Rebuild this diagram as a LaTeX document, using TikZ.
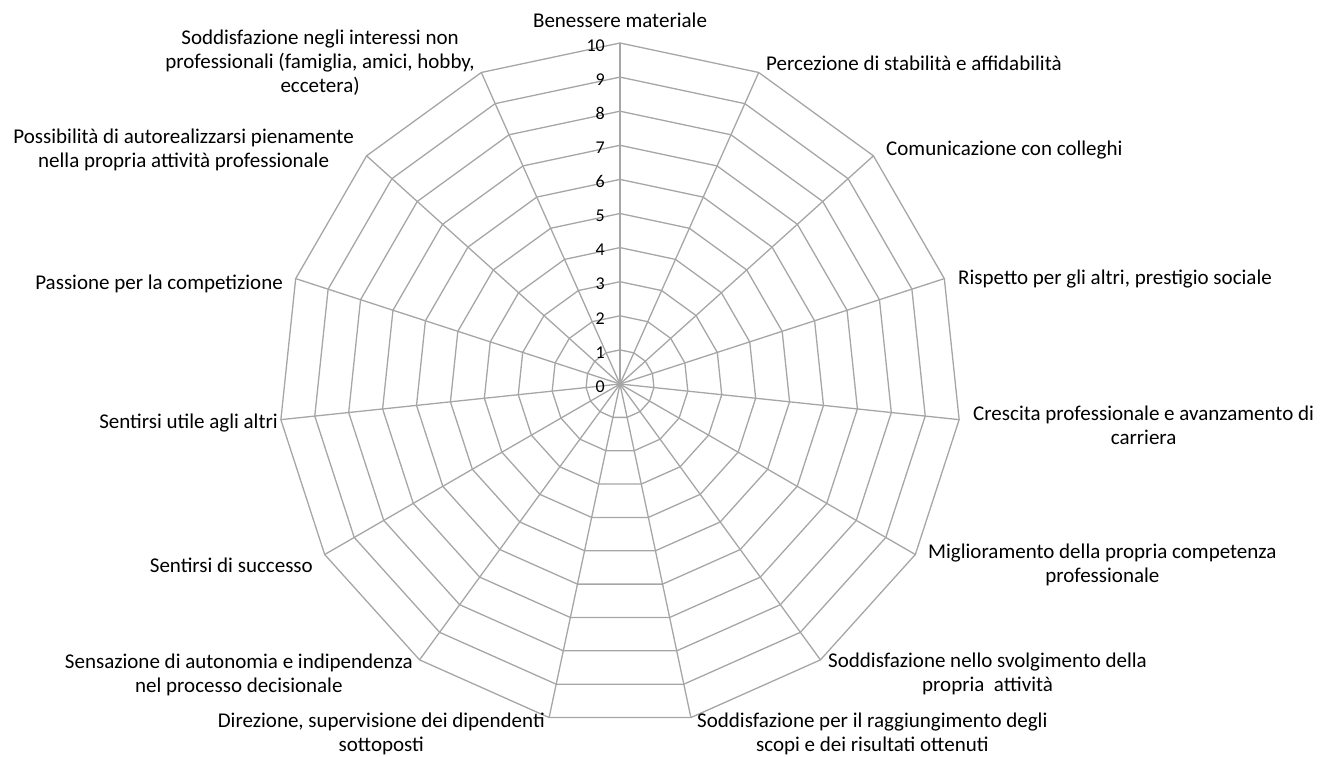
\documentclass[tikz,border=0pt]{standalone}
\usepackage{fontspec}
\setmainfont{Carlito}
\definecolor{gridgray}{RGB}{166,166,166}
\begin{document}
\begin{tikzpicture}[x=1pt,y=-1pt,
		grid/.style={draw=gridgray,line width=1.3pt,line join=round},
		axislabel/.style={font=\fontsize{21}{24}\selectfont,align=center,inner sep=0pt},
		ticklabel/.style={font=\fontsize{18}{20}\selectfont,anchor=east,inner sep=0pt}]
	\useasboundingbox (0,0) rectangle (1338,757);
	\coordinate (c) at (620,384);
	\begin{scope}[shift={(c)}]
		\foreach \i in {0,...,14} {
			\coordinate (v\i) at (24*\i-90:341);
			\draw[grid] (0,0) -- (v\i);
		}
		\foreach \r in {1,...,10} {
			\draw[grid] (-90:34.1*\r) \foreach \i in {1,...,14} { -- (24*\i-90:34.1*\r) } -- cycle;
		}
	\end{scope}
	\foreach \r in {0,...,10} {
		\node[ticklabel] (t\r) at (605,386.5-34.1*\r) {\r};
	}
	\node[axislabel] (l0) at (620,20) {Benessere materiale};
	\node[axislabel,anchor=west] (l1) at (766,63) {Percezione di stabilità e affidabilità};
	\node[axislabel,anchor=west] (l2) at (886,150) {Comunicazione con colleghi};
	\node[axislabel,anchor=west] (l3) at (958,279) {Rispetto per gli altri, prestigio sociale};
	\node[axislabel,anchor=west] (l4) at (973,425) {Crescita professionale e avanzamento di\\carriera};
	\node[axislabel,anchor=west] (l5) at (928,565) {Miglioramento della propria competenza\\professionale};
	\node[axislabel,anchor=west] (l6) at (828,674) {Soddisfazione nello svolgimento della\\propria~~attività};
	\node[axislabel,anchor=west] (l7) at (697,734) {Soddisfazione per il raggiungimento degli\\scopi e dei risultati ottenuti};
	\node[axislabel,anchor=east] (l8) at (545,734) {Direzione, supervisione dei dipendenti\\sottoposti};
	\node[axislabel,anchor=east] (l9) at (413,675) {Sensazione di autonomia e indipendenza\\nel processo decisionale};
	\node[axislabel,anchor=east] (l10) at (313,565) {Sentirsi di successo};
	\node[axislabel,anchor=east] (l11) at (278,423) {Sentirsi utile agli altri};
	\node[axislabel,anchor=east] (l12) at (283,284) {Passione per la competizione};
	\node[axislabel,anchor=east] (l13) at (354,150) {Possibilità di autorealizzarsi pienamente\\nella propria attività professionale};
	\node[axislabel,anchor=east] (l14) at (475,63) {Soddisfazione negli interessi non\\professionali (famiglia, amici, hobby,\\eccetera)};
\end{tikzpicture}
\end{document}
